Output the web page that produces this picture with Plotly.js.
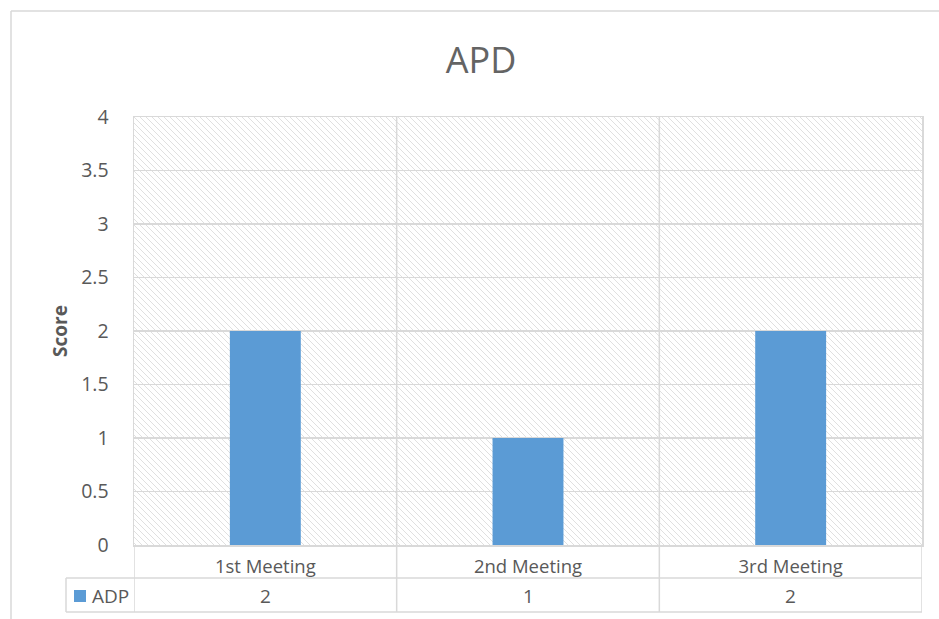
<!DOCTYPE html>
<html>
<head>
<meta charset="utf-8">
<script src="https://cdn.plot.ly/plotly-3.0.1.min.js"></script>
<style>html,body{margin:0;padding:0;background:#fff;}#chart{width:939px;height:619px;}</style>
</head>
<body>
<div id="chart"></div>
<script>
// ---- data ----
const chartTitle = 'APD';
const categories = ['1st Meeting', '2nd Meeting', '3rd Meeting'];
const seriesName = 'ADP';
const seriesValues = [2, 1, 2];
const yAxisTitle = 'Score';
const yTickValues = [0, 0.5, 1, 1.5, 2, 2.5, 3, 3.5, 4];

// ---- geometry helpers (pixels -> paper) ----
const W = 939, H = 619;
const M = {l: 134, r: 17, t: 117, b: 74};
const PW = W - M.l - M.r, PH = H - M.t - M.b;
const px = x => (x - M.l) / PW;
const py = y => (H - M.b - y) / PH;

const grey = '#d9d9d9';
const txt = '#595959';
const blue = '#5b9bd5';
const FONT = 'Open Sans, Noto Sans, sans-serif';

// hatch background as svg image
const hatchSvg = `<svg xmlns="http://www.w3.org/2000/svg" width="${PW}" height="${PH}">
<defs><pattern id="h" patternUnits="userSpaceOnUse" width="6" height="6">
<path d="M-1,-1 L7,7 M-1,5 L1,7 M5,-1 L7,1" stroke="#e0e0e0" stroke-width="1"/>
</pattern></defs><rect width="100%" height="100%" fill="url(#h)"/></svg>`;

const xIdx = categories.map((c, i) => i);

const bar = {
  type: 'bar', x: xIdx, y: seriesValues, name: seriesName,
  width: 0.27, marker: {color: blue}, hoverinfo: 'y', showlegend: false
};

const shapes = [];
const line = (x0, y0, x1, y1, xref) => shapes.push({
  type: 'line', xref: xref || 'paper', yref: 'paper', x0, y0, x1, y1,
  line: {color: grey, width: 1.5}, layer: 'above'
});
// category separators through plot and table
for (let i = 0; i < categories.length - 1; i++) line(i + 0.5, py(612), i + 0.5, 1, 'x');
line(-0.5, py(612), -0.5, 0, 'x');
line(categories.length - 0.5, py(612), categories.length - 0.5, 0, 'x');
// table horizontals
line(px(66), py(578), 1, py(578));
line(px(66), py(612), 1, py(612));
line(px(66), py(578), px(66), py(612));
// outer chart border
shapes.push({type: 'line', xref: 'paper', yref: 'paper', x0: px(11), y0: py(11), x1: px(945), y1: py(11), line: {color: grey, width: 1.5}});
shapes.push({type: 'line', xref: 'paper', yref: 'paper', x0: px(11), y0: py(11), x1: px(11), y1: py(625), line: {color: grey, width: 1.5}});
// legend key square
shapes.push({type: 'rect', xref: 'paper', yref: 'paper', x0: px(74), x1: px(86), y0: py(590), y1: py(602), fillcolor: blue, line: {width: 0}});

const annotations = [];
seriesValues.forEach((v, i) => annotations.push({
  xref: 'x', yref: 'paper', x: i, y: py(596), text: String(v), showarrow: false,
  font: {family: FONT, size: 19, color: txt}, xanchor: 'center', yanchor: 'middle'
}));
annotations.push({
  xref: 'paper', yref: 'paper', x: px(90), y: py(596), text: seriesName, showarrow: false,
  font: {family: FONT, size: 19, color: txt}, xanchor: 'left', yanchor: 'middle'
});

const layout = {
  width: W, height: H,
  margin: M,
  paper_bgcolor: '#ffffff',
  plot_bgcolor: 'rgba(0,0,0,0)',
  showlegend: false,
  title: {
    text: chartTitle, font: {family: FONT, size: 36, color: '#646464'},
    x: 481 / W, xanchor: 'center', xref: 'container',
    y: 1 - 60 / H, yanchor: 'middle', yref: 'container'
  },
  xaxis: {
    range: [-0.5, categories.length - 0.5],
    tickvals: xIdx, ticktext: categories,
    showgrid: false, zeroline: false, ticks: '',
    showline: true, mirror: true, linecolor: grey, linewidth: 1.5,
    tickfont: {family: FONT, size: 18.5, color: txt},
    ticklabelstandoff: 4, fixedrange: true
  },
  yaxis: {
    range: [0, 4], tickvals: yTickValues,
    ticktext: yTickValues.map(v => String(v)),
    showgrid: true, gridcolor: grey, gridwidth: 1.5,
    zeroline: false, ticks: '',
    showline: true, mirror: true, linecolor: grey, linewidth: 1.5,
    tickfont: {family: FONT, size: 19.5, color: txt},
    ticklabelstandoff: 20, automargin: true,
    title: {text: '<b>' + yAxisTitle + '</b>', font: {family: FONT, size: 19, color: txt}, standoff: 8},
    fixedrange: true
  },
  images: [{
    source: 'data:image/svg+xml;charset=utf-8,' + encodeURIComponent(hatchSvg),
    xref: 'paper', yref: 'paper', x: 0, y: 1, sizex: 1, sizey: 1,
    sizing: 'stretch', xanchor: 'left', yanchor: 'top', layer: 'below'
  }],
  shapes, annotations
};

Plotly.newPlot('chart', [bar], layout, {displayModeBar: false, staticPlot: true});
</script>
</body>
</html>
